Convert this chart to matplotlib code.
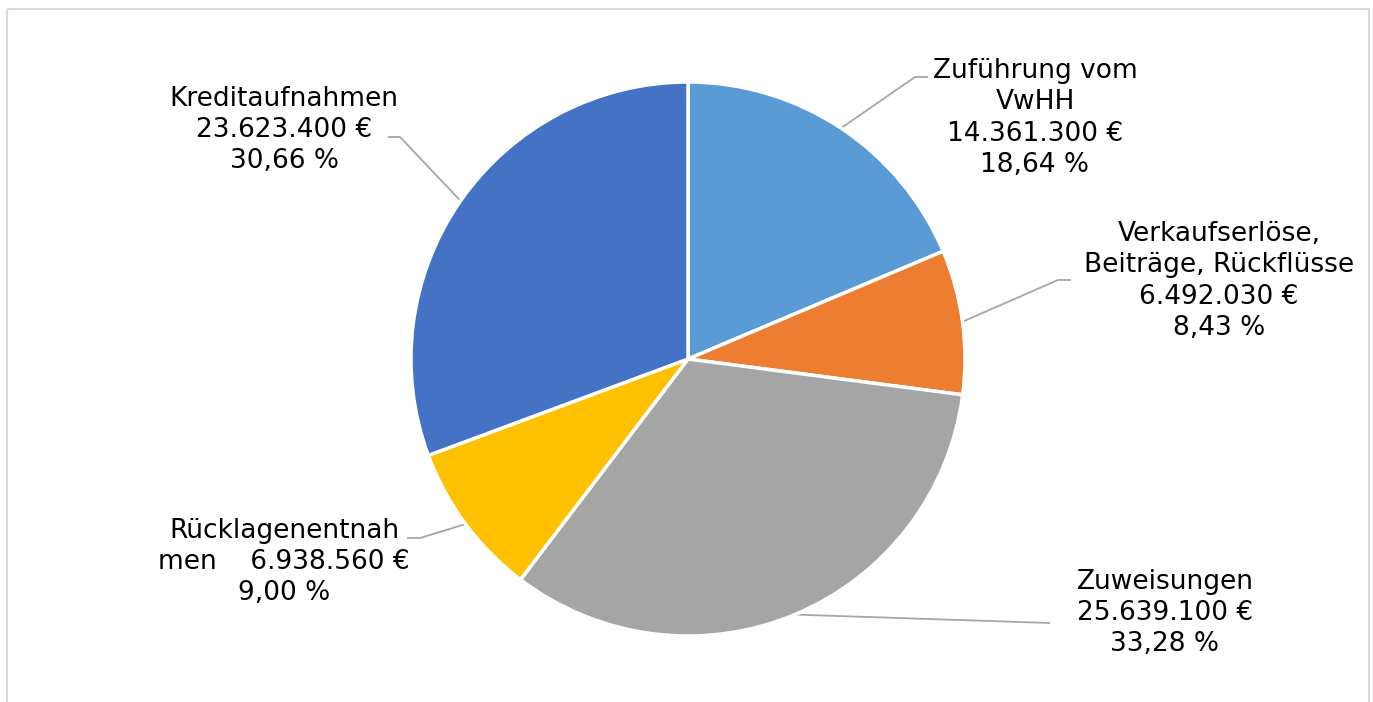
import numpy as np
import matplotlib.pyplot as plt
from matplotlib.patches import Rectangle

# data
labels = ['Zuführung vom\nVwHH', 'Verkaufserlöse,\nBeiträge, Rückflüsse', 'Zuweisungen',
          'Rücklagenentnah\nmen    ', 'Kreditaufnahmen']
values = [14361300, 6492030, 25639100, 6938560, 23623400]
percents = [18.64, 8.43, 33.28, 9.00, 30.66]
colors = ['#5B9BD5', '#ED7D31', '#A5A5A5', '#FFC000', '#4472C4']

W, H = 1373, 702
fig = plt.figure(figsize=(W / 100, H / 100), dpi=100)
ax = fig.add_axes([0, 0, 1, 1])
ax.set_xlim(0, W)
ax.set_ylim(H, 0)
ax.axis('off')

# pie in a second axes on the same pixel frame (y up)
pax = fig.add_axes([0, 0, 1, 1])
pax.set_aspect('equal')
pax.axis('off')
cx, cy, r = 688, H - 359, 277
wedges, _ = pax.pie(values, colors=colors, startangle=90, counterclock=False,
                    center=(cx, cy), radius=r,
                    wedgeprops=dict(edgecolor='white', linewidth=2.5))
pax.set_xlim(0, W)
pax.set_ylim(0, H)

ax.add_patch(Rectangle((7, 9), 1362, 720, fill=False, edgecolor='#D9D9D9', linewidth=1.5))


def fmt_eur(v):
    return f'{v:,}'.replace(',', '.') + ' €'


def fmt_pct(p):
    return f'{p:.2f}'.replace('.', ',') + ' %'


# label centre (px), elbow point, end point of leader (layout only)
label_pos = [(1035, 118), (1219, 281), (1165, 613), (284, 562), (284, 130)]
elbows = [(915, 77), (1058, 280), None, (420, 538), (400, 137)]
ends = [(928, 77), (1071, 280), (1050, 623), (407, 538), (388, 137)]

for i, w in enumerate(wedges):
    ang = np.deg2rad((w.theta1 + w.theta2) / 2)
    sx = cx + r * np.cos(ang)
    sy = H - (cy + r * np.sin(ang))
    pts = [(sx, sy)]
    if elbows[i] is not None:
        pts.append(elbows[i])
    pts.append(ends[i])
    xs, ys = zip(*pts)
    ax.plot(xs, ys, color='#A6A6A6', linewidth=1.3, solid_capstyle='butt')

    if i == 3:
        txt = labels[i] + fmt_eur(values[i]) + '\n' + fmt_pct(percents[i])
    else:
        txt = labels[i] + '\n' + fmt_eur(values[i]) + '\n' + fmt_pct(percents[i])
    ax.text(label_pos[i][0], label_pos[i][1], txt, ha='center', va='center',
            multialignment='center', fontsize=19, linespacing=1.27,
            family='DejaVu Sans', color='black')

fig.savefig('out.png', dpi=100)
